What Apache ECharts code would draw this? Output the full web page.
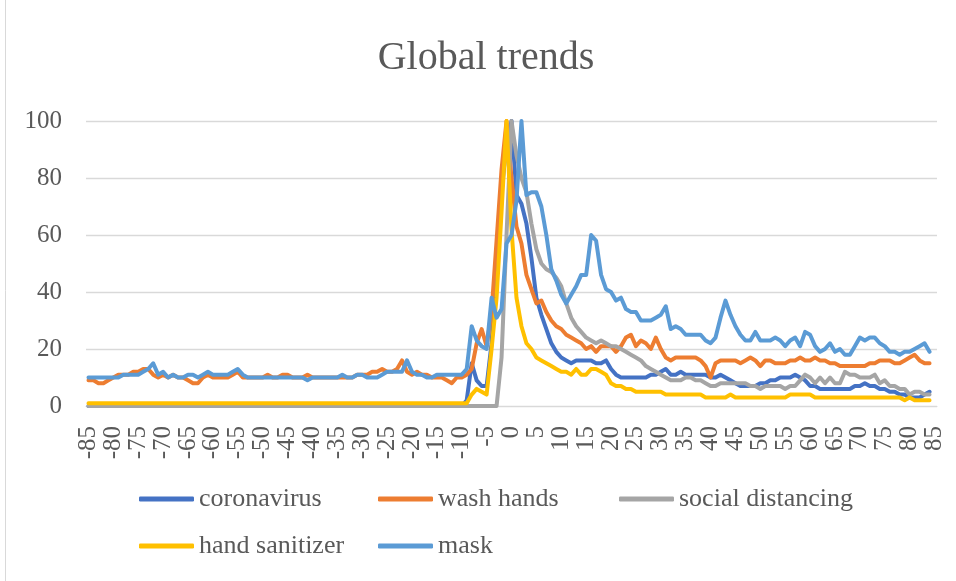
<!DOCTYPE html>
<html>
<head>
<meta charset="utf-8">
<script src="https://cdn.jsdelivr.net/npm/echarts@6/dist/echarts.min.js"></script>
<style>
  html, body { margin: 0; padding: 0; background: #ffffff; }
  #chart { width: 956px; height: 581px; }
</style>
</head>
<body>
<div id="chart"></div>
<script>
// Days relative to the peak, -85 .. 85
const days = [
  '-85','-84','-83','-82','-81','-80','-79','-78','-77','-76',
  '-75','-74','-73','-72','-71','-70','-69','-68','-67','-66',
  '-65','-64','-63','-62','-61','-60','-59','-58','-57','-56',
  '-55','-54','-53','-52','-51','-50','-49','-48','-47','-46',
  '-45','-44','-43','-42','-41','-40','-39','-38','-37','-36',
  '-35','-34','-33','-32','-31','-30','-29','-28','-27','-26',
  '-25','-24','-23','-22','-21','-20','-19','-18','-17','-16',
  '-15','-14','-13','-12','-11','-10','-9','-8','-7','-6',
  '-5','-4','-3','-2','-1','0','1','2','3','4',
  '5','6','7','8','9','10','11','12','13','14',
  '15','16','17','18','19','20','21','22','23','24',
  '25','26','27','28','29','30','31','32','33','34',
  '35','36','37','38','39','40','41','42','43','44',
  '45','46','47','48','49','50','51','52','53','54',
  '55','56','57','58','59','60','61','62','63','64',
  '65','66','67','68','69','70','71','72','73','74',
  '75','76','77','78','79','80','81','82','83','84',
  '85'
];

const coronavirus = [
  0,0,0,0,0,0,0,0,0,0,
  0,0,0,0,0,0,0,0,0,0,
  0,0,0,0,0,0,0,0,0,0,
  0,0,0,0,0,0,0,0,0,0,
  0,0,0,0,0,0,0,0,0,0,
  0,0,0,0,0,0,0,0,0,0,
  0,0,0,0,0,0,0,0,0,0,
  0,0,0,0,0,0,2,15,9,7,
  7,22,48,75,92,100,74,71,64,52,
  38,32,27,22,19,17,16,15,16,16,
  16,16,15,15,16,13,11,10,10,10,
  10,10,10,11,11,12,13,11,11,12,
  11,11,11,11,11,10,10,11,10,9,
  8,7,7,7,7,8,8,9,9,10,
  10,10,11,10,9,7,7,6,6,6,
  6,6,6,6,7,7,8,7,7,6,
  6,5,5,4,4,3,3,3,4,5,
  null
];

const washHands = [
  9,9,8,8,9,10,11,11,11,12,
  12,13,13,11,10,11,10,11,10,10,
  9,8,8,10,11,10,10,10,10,11,
  12,10,10,10,10,10,11,10,10,11,
  11,10,10,10,11,10,10,10,10,10,
  10,10,10,10,11,11,11,12,12,13,
  12,12,13,16,12,11,12,11,11,10,
  10,10,9,8,10,10,11,13,22,27,
  21,33,58,83,100,80,63,57,46,41,
  36,37,33,30,28,27,25,24,23,22,
  20,21,19,21,21,21,19,21,24,25,
  21,23,22,20,24,20,17,16,17,17,
  17,17,17,16,14,10,15,16,16,16,
  16,15,16,17,16,14,16,16,15,15,
  15,16,16,17,16,16,17,16,16,15,
  15,14,14,14,14,14,14,15,15,16,
  16,16,15,15,16,17,18,16,15,15,
  null
];

const socialDistancing = [
  0,0,0,0,0,0,0,0,0,0,
  0,0,0,0,0,0,0,0,0,0,
  0,0,0,0,0,0,0,0,0,0,
  0,0,0,0,0,0,0,0,0,0,
  0,0,0,0,0,0,0,0,0,0,
  0,0,0,0,0,0,0,0,0,0,
  0,0,0,0,0,0,0,0,0,0,
  0,0,0,0,0,0,0,0,0,0,
  0,0,0,17,60,100,88,80,75,64,
  55,50,48,47,45,42,36,31,28,26,
  24,23,22,23,22,21,21,20,19,18,
  17,16,14,13,12,11,10,9,9,9,
  10,10,9,9,8,7,7,8,8,8,
  8,8,8,7,7,6,7,7,7,7,
  6,7,7,9,11,10,8,10,8,10,
  8,8,12,11,11,10,10,10,11,8,
  9,7,7,6,6,4,5,5,4,4,
  null
];

const handSanitizer = [
  1,1,1,1,1,1,1,1,1,1,
  1,1,1,1,1,1,1,1,1,1,
  1,1,1,1,1,1,1,1,1,1,
  1,1,1,1,1,1,1,1,1,1,
  1,1,1,1,1,1,1,1,1,1,
  1,1,1,1,1,1,1,1,1,1,
  1,1,1,1,1,1,1,1,1,1,
  1,1,1,1,1,1,1,4,6,5,
  4,20,38,68,100,62,38,28,22,20,
  17,16,15,14,13,12,12,11,13,11,
  11,13,13,12,11,8,7,7,6,6,
  5,5,5,5,5,5,4,4,4,4,
  4,4,4,4,3,3,3,3,3,4,
  3,3,3,3,3,3,3,3,3,3,
  3,4,4,4,4,4,3,3,3,3,
  3,3,3,3,3,3,3,3,3,3,
  3,3,3,3,2,3,2,2,2,2,
  null
];

const mask = [
  10,10,10,10,10,10,10,11,11,11,
  11,12,13,15,11,12,10,11,10,10,
  11,11,10,11,12,11,11,11,11,12,
  13,11,10,10,10,10,10,10,10,10,
  10,10,10,10,9,10,10,10,10,10,
  10,11,10,10,11,11,10,10,10,11,
  12,12,12,12,16,12,11,11,10,10,
  11,11,11,11,11,11,13,28,23,21,
  20,38,31,34,57,60,72,100,74,75,
  75,70,60,48,44,39,36,39,42,46,
  46,60,58,46,41,40,37,38,34,33,
  33,30,30,30,31,32,35,27,28,27,
  25,25,25,25,23,22,24,31,37,32,
  28,25,23,23,26,23,23,23,24,23,
  21,23,24,21,26,25,21,19,20,22,
  19,20,18,18,21,24,23,24,24,22,
  21,19,19,18,19,19,20,21,22,19,
  null
];

const yTicks = { min: 0, max: 100, step: 20 };

const seriesDefs = [
  { name: 'coronavirus',       values: coronavirus,      color: '#4472C4' },
  { name: 'wash hands',        values: washHands,        color: '#ED7D31' },
  { name: 'social distancing', values: socialDistancing, color: '#A5A5A5' },
  { name: 'hand sanitizer',    values: handSanitizer,    color: '#FFC000' },
  { name: 'mask',              values: mask,             color: '#5B9BD5' }
];

const FONT = '"Liberation Serif", "DejaVu Serif", serif';
const TEXT = '#595959';
const GRID = '#D9D9D9';

const legendBase = {
  orient: 'vertical',
  icon: 'roundRect',
  itemWidth: 55,
  itemHeight: 5,
  itemGap: 21,
  top: 486,
  padding: 0,
  textStyle: { fontFamily: FONT, fontSize: 26, color: TEXT, lineHeight: 26 }
};

const chart = echarts.init(document.getElementById('chart'), null, { renderer: 'canvas' });

chart.setOption({
  backgroundColor: '#ffffff',
  animation: false,
  graphic: [
    {
      type: 'text',
      x: 486,
      y: 58,
      style: {
        text: 'Global trends',
        font: '40px ' + FONT,
        fill: TEXT,
        align: 'center',
        verticalAlign: 'middle'
      }
    },
    {
      type: 'line',
      shape: { x1: 5.5, y1: 0, x2: 5.5, y2: 581 },
      style: { stroke: GRID, lineWidth: 1 }
    }
  ],
  legend: [
    Object.assign({}, legendBase, { left: 139, data: ['coronavirus', 'hand sanitizer'] }),
    Object.assign({}, legendBase, { left: 378, data: ['wash hands', 'mask'] }),
    Object.assign({}, legendBase, { left: 619, data: ['social distancing'] })
  ],
  grid: { left: 86, right: 19, top: 121, bottom: 175, containLabel: false },
  xAxis: {
    type: 'category',
    data: days,
    boundaryGap: true,
    axisLine: { show: true, lineStyle: { color: GRID, width: 1 } },
    axisTick: { show: false },
    axisLabel: {
      interval: 4,
      rotate: 90,
      margin: 20,
      fontFamily: FONT,
      fontSize: 25,
      color: TEXT
    },
    splitLine: { show: false }
  },
  yAxis: {
    type: 'value',
    min: yTicks.min,
    max: yTicks.max,
    interval: yTicks.step,
    axisLine: { show: false },
    axisTick: { show: false },
    axisLabel: { margin: 24, fontFamily: FONT, fontSize: 25, color: TEXT },
    splitLine: { lineStyle: { color: GRID, width: 1.3 } }
  },
  series: seriesDefs.map(s => ({
    name: s.name,
    type: 'line',
    data: s.values,
    symbol: 'none',
    connectNulls: false,
    color: s.color,
    lineStyle: { color: s.color, width: 4, cap: 'round', join: 'round' },
    emphasis: { disabled: true }
  }))
});
</script>
</body>
</html>
